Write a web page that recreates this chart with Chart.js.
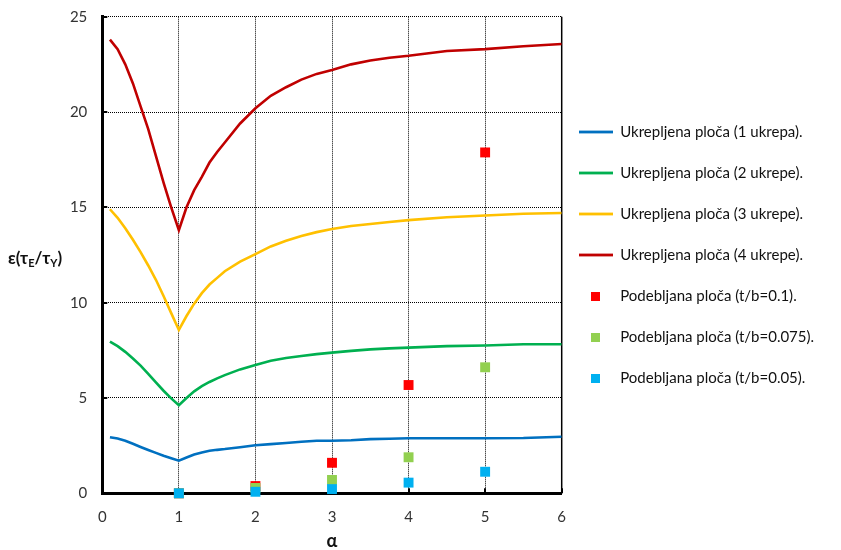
<!DOCTYPE html>
<html>
<head>
<meta charset="utf-8">
<script src="https://cdn.jsdelivr.net/npm/chart.js@4.4.1/dist/chart.umd.min.js"></script>
<style>
html,body{margin:0;padding:0;background:#fff;}
#wrap{width:841px;height:550px;position:relative;}
</style>
</head>
<body>
<div id="wrap"><canvas id="c" width="841" height="550"></canvas></div>
<script>
// ---- data ----
const alpha = [0.1,0.2,0.3,0.4,0.5,0.6,0.7,0.8,0.9,1.0,1.1,1.2,1.3,1.4,1.5,1.6,1.8,2.0,2.2,2.4,2.6,2.8,3.0,3.25,3.5,3.75,4.0,4.5,5.0,5.5,6.0];
const ukrepa1 = [2.94,2.87,2.76,2.60,2.43,2.27,2.12,1.97,1.84,1.71,1.88,2.03,2.14,2.23,2.28,2.32,2.42,2.52,2.58,2.64,2.70,2.76,2.76,2.78,2.84,2.86,2.89,2.89,2.89,2.90,2.97];
const ukrepe2 = [7.96,7.72,7.42,7.07,6.70,6.27,5.82,5.38,4.98,4.62,5.00,5.35,5.62,5.84,6.03,6.20,6.50,6.73,6.95,7.10,7.20,7.30,7.38,7.47,7.55,7.60,7.64,7.72,7.75,7.82,7.82];
const ukrepe3 = [14.90,14.45,13.90,13.30,12.65,11.95,11.20,10.35,9.45,8.57,9.30,9.95,10.50,10.95,11.30,11.65,12.15,12.55,12.95,13.25,13.50,13.70,13.86,14.02,14.13,14.23,14.33,14.48,14.57,14.66,14.70];
const ukrepe4 = [23.80,23.30,22.50,21.50,20.30,19.10,17.70,16.30,15.00,13.80,15.00,15.90,16.60,17.35,17.90,18.40,19.40,20.20,20.85,21.30,21.70,22.00,22.20,22.50,22.70,22.85,22.95,23.20,23.30,23.45,23.57];

const alphaPts = [1,2,3,4,5];
const tb010 = [0,0.38,1.60,5.68,17.88];
const tb0075 = [0,0.28,0.70,1.89,6.61];
const tb005 = [0,0.08,0.22,0.56,1.13];

const xTicks = [0,1,2,3,4,5,6];
const yTicks = [0,5,10,15,20,25];

const labels = [
  'Ukrepljena ploča (1 ukrepa).',
  'Ukrepljena ploča (2 ukrepe).',
  'Ukrepljena ploča (3 ukrepe).',
  'Ukrepljena ploča (4 ukrepe).',
  'Podebljana ploča (t/b=0.1).',
  'Podebljana ploča (t/b=0.075).',
  'Podebljana ploča (t/b=0.05).'
];
const xTitle = 'α';
const yTitleParts = [['ε(τ', 0], ['E', 1], ['/τ', 0], ['Y', 1], [')', 0]];

// ---- styling ----
const FONT = "Lato, 'DejaVu Sans', sans-serif";
const lineColors = ['#0070C0', '#00B050', '#FFC000', '#C00000'];
const squareColors = ['#FF0000', '#92D050', '#00B0F0'];
const AREA = {left: 102.3, right: 561.7, top: 16.7, bottom: 493.3};
let xAxisHeight = 550 - AREA.bottom;

const toXY = (xs, ys) => xs.map((x, i) => ({x, y: ys[i]}));

const lineSeries = [ukrepa1, ukrepe2, ukrepe3, ukrepe4];
const pointSeries = [tb010, tb0075, tb005];

function lineIcon(color) {
  const c = document.createElement('canvas');
  c.width = 34; c.height = 4;
  const g = c.getContext('2d');
  g.fillStyle = color; g.fillRect(0, 0.6, 34, 2.8);
  return c;
}
function squareIcon(color) {
  const c = document.createElement('canvas');
  c.width = 9; c.height = 9;
  const g = c.getContext('2d');
  g.fillStyle = color; g.fillRect(0, 0, 9, 9);
  return c;
}

const datasets = [];
lineSeries.forEach((ys, i) => {
  datasets.push({
    type: 'line', label: labels[i], data: toXY(alpha, ys),
    borderColor: lineColors[i], backgroundColor: lineColors[i],
    borderWidth: 2.6, pointRadius: 0, pointHoverRadius: 0, tension: 0, fill: false,
    order: 10 + i, _icon: lineIcon(lineColors[i])
  });
});
pointSeries.forEach((ys, i) => {
  datasets.push({
    type: 'scatter', label: labels[4 + i], data: toXY(alphaPts, ys),
    borderColor: squareColors[i], backgroundColor: squareColors[i],
    pointStyle: 'rect', pointRadius: 7, pointBorderWidth: 0, borderWidth: 0,
    showLine: false, clip: false,
    order: 2 - i, _icon: squareIcon(squareColors[i])
  });
});

const framePlugin = {
  id: 'frame',
  beforeDatasetsDraw(chart) {
    const {ctx, chartArea: ca, scales} = chart;
    ctx.save();
    ctx.strokeStyle = '#000';
    ctx.lineWidth = 1.5;
    ctx.beginPath();
    ctx.moveTo(ca.right, ca.top); ctx.lineTo(ca.right, ca.bottom);
    ctx.stroke();
    ctx.lineWidth = 2;
    ctx.beginPath();
    scales.y.ticks.forEach(t => {
      const py = Math.round(scales.y.getPixelForValue(t.value));
      ctx.moveTo(ca.left, py); ctx.lineTo(ca.left + 5, py);
    });
    scales.x.ticks.forEach(t => {
      const px = Math.round(scales.x.getPixelForValue(t.value));
      ctx.moveTo(px, ca.bottom); ctx.lineTo(px, ca.bottom - 5);
    });
    ctx.stroke();
    ctx.restore();
  },
  afterDraw(chart) {
    const {ctx, chartArea: ca} = chart;
    ctx.save();
    ctx.fillStyle = '#111';
    ctx.textAlign = 'left';
    ctx.textBaseline = 'alphabetic';
    let x = 8;
    const base = (ca.top + ca.bottom) / 2 + 9;
    yTitleParts.forEach(([t, sub]) => {
      ctx.font = sub ? `bold 11px ${FONT}` : `bold 17px ${FONT}`;
      ctx.fillText(t, x, base + (sub ? 3 : 0));
      x += ctx.measureText(t).width;
    });
    ctx.restore();
  }
};

const chart = new Chart(document.getElementById('c'), {
  data: {datasets},
  options: {
    responsive: false,
    animation: false,
    events: [],
    layout: {padding: {top: 17, right: 20, bottom: 0, left: 0}},
    scales: {
      x: {
        type: 'linear', min: 0, max: 6,
        afterBuildTicks: s => { s.ticks = xTicks.map(v => ({value: v})); },
        afterFit: s => { s.height = xAxisHeight; s.paddingTop = 0; },
        grid: {color: '#000', lineWidth: 1, drawTicks: false},
        border: {display: true, color: '#000', width: 3, dash: [1, 1]},
        ticks: {padding: 15, color: '#333', font: {family: FONT, size: 15}},
        title: {display: true, text: xTitle, color: '#111', font: {family: FONT, size: 18, weight: 'bold'}, padding: {top: 0, bottom: -2}}
      },
      y: {
        type: 'linear', min: 0, max: 25,
        afterBuildTicks: s => { s.ticks = yTicks.map(v => ({value: v})); },
        afterFit: s => { s.width = AREA.left; s.paddingTop = 0; s.paddingBottom = 0; },
        grid: {color: '#000', lineWidth: 1, drawTicks: false},
        border: {display: true, color: '#000', width: 3, dash: [1, 1]},
        ticks: {padding: 15, color: '#333', font: {family: FONT, size: 15}}
      }
    },
    plugins: {
      tooltip: {enabled: false},
      legend: {
        position: 'right',
        align: 'start',
        title: {display: true, text: '', padding: {top: 80.8, bottom: 0}, font: {size: 10, lineHeight: 1}},
        labels: {
          usePointStyle: true,
          pointStyleWidth: 34,
          padding: 17,
          color: '#111',
          font: {family: FONT, size: 15, lineHeight: '24px'},
          generateLabels(ch) {
            return ch.data.datasets.map((ds, i) => ({
              text: [ds.label], pointStyle: ds._icon, lineWidth: 0,
              strokeStyle: 'rgba(0,0,0,0)', fillStyle: 'rgba(0,0,0,0)',
              hidden: false, datasetIndex: i, fontColor: '#111'
            }));
          }
        }
      }
    }
  },
  plugins: [framePlugin]
});

// let the legend column use the width it needs (layout would cap it at a quarter of the canvas)
const lg = chart.legend;
const origUpdate = lg.update.bind(lg);
lg.update = (maxWidth, maxHeight, margins) => origUpdate(320, maxHeight, margins);

// calibrate the plot frame to the reference frame
const pad = chart.options.layout.padding;
for (let k = 0; k < 4; k++) {
  chart.update();
  const ca = chart.chartArea;
  pad.right = Math.max(0, pad.right + (ca.right - AREA.right));
  pad.top = Math.max(0, pad.top + (AREA.top - ca.top));
  xAxisHeight = Math.max(20, xAxisHeight + (ca.bottom - AREA.bottom));
}
chart.update();
</script>
</body>
</html>
